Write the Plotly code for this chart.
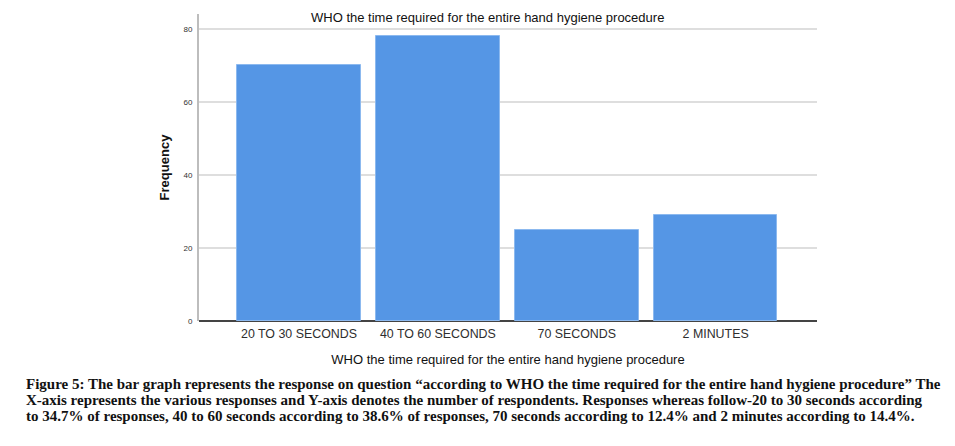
import plotly.graph_objects as go

categories = ["20 TO 30 SECONDS", "40 TO 60 SECONDS", "70 SECONDS", "2 MINUTES"]
frequency = [70, 78, 25, 29]
y_ticks = [0, 20, 40, 60, 80]

title_text = "WHO the time required for the entire hand hygiene procedure"
x_title = "WHO the time required for the entire hand hygiene procedure"
y_title = "<b>Frequency</b>"
caption_lines = [
    "Figure 5: The bar graph represents the response on question “according to WHO the time required for the entire hand hygiene procedure” The",
    "X-axis represents the various responses and Y-axis denotes the number of respondents. Responses whereas follow-20 to 30 seconds according",
    "to 34.7% of responses, 40 to 60 seconds according to 38.6% of responses, 70 seconds according to 12.4% and 2 minutes according to 14.4%.",
]

# page has an 8px body margin; work in figure coordinates
OFF = 8
W, H = 955 - OFF, 446 - OFF
L, R, T, B = 199 - OFF, 817 - OFF, 14 - OFF, 321 - OFF
PH = B - T


def py(page_y):
    return (B - (page_y - OFF)) / PH


def px(page_x):
    return ((page_x - OFF) - L) / (R - L)


fig = go.Figure()
fig.add_trace(go.Bar(
    x=list(range(len(categories))), y=frequency,
    width=0.89,
    marker=dict(color="#5596e5", line=dict(color="#8cb9ef", width=1)),
    showlegend=False,
))

fig.update_layout(
    width=W, height=H,
    margin=dict(l=L, r=W - R, t=T, b=H - B, autoexpand=False),
    paper_bgcolor="white", plot_bgcolor="white",
    font=dict(family="Liberation Sans, Arial, sans-serif", color="#222"),
    bargap=0,
    xaxis=dict(
        range=[-0.72, 3.73],
        tickmode="array", tickvals=list(range(len(categories))), ticktext=categories,
        tickfont=dict(size=12.4, color="#2e2e2e"),
        showgrid=False, zeroline=False, showline=False, ticks="",
        ticklabelstandoff=4,
        title=dict(text=x_title, font=dict(size=13, color="#111"), standoff=14),
        fixedrange=True,
    ),
    yaxis=dict(
        range=[0, 84.1],
        tickmode="array", tickvals=y_ticks,
        tickfont=dict(size=8, color="#333"),
        showgrid=True, gridcolor="#dedede", gridwidth=1.5,
        zeroline=True, zerolinecolor="#444", zerolinewidth=1.5,
        showline=True, linecolor="#bdbdbd", linewidth=2,
        ticks="", ticklabelstandoff=3,
        title=dict(text=y_title, font=dict(size=13, color="#111"), standoff=11),
    ),
)

fig.add_annotation(
    text=title_text, xref="paper", yref="paper",
    x=px(487), y=py(8), xanchor="center", yanchor="top",
    showarrow=False, font=dict(size=13, color="#111"),
)

for i, line in enumerate(caption_lines):
    fig.add_annotation(
        text="<b>" + line + "</b>", xref="paper", yref="paper",
        x=px(24), y=py(384 + 16 * i),
        xanchor="left", yanchor="middle", align="left",
        showarrow=False,
        font=dict(family="Liberation Serif, Times New Roman, serif", size=15, color="#111"),
    )

fig.write_html("out.html")
